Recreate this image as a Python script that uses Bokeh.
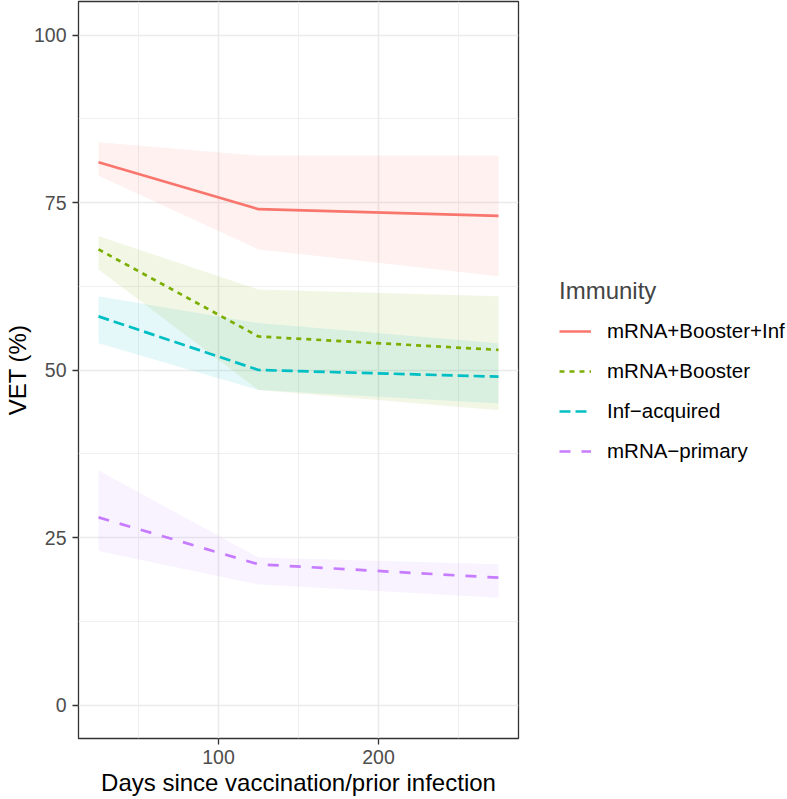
from bokeh.plotting import figure
from bokeh.models import Range1d, FixedTicker, Legend, LegendItem
from bokeh.embed import file_html
from bokeh.resources import INLINE

# ---- data ----
days = [25, 125, 275]
groups = ["mRNA+Booster+Inf", "mRNA+Booster", "Inf\u2212acquired", "mRNA\u2212primary"]

vet_boost_inf = [81, 74, 73]
lo_boost_inf = [79, 68, 64]
hi_boost_inf = [84, 82, 82]

vet_boost = [68, 55, 53]
lo_boost = [65, 47, 44]
hi_boost = [70, 62, 61]

vet_inf = [58, 50, 49]
lo_inf = [54, 47, 45]
hi_inf = [61, 57, 54]

vet_primary = [28, 21, 19]
lo_primary = [23, 18, 16]
hi_primary = [35, 22, 21]

y_ticks = [0, 25, 50, 75, 100]
y_minor = [12.5, 37.5, 62.5, 87.5]
x_ticks = [100, 200]
x_minor = [50, 150, 250]

series = [
    (groups[0], vet_boost_inf, lo_boost_inf, hi_boost_inf, "#F8766D", "solid"),
    (groups[1], vet_boost, lo_boost, hi_boost, "#7CAE00", "5 5"),
    (groups[2], vet_inf, lo_inf, hi_inf, "#00BFC4", "11 5"),
    (groups[3], vet_primary, lo_primary, hi_primary, "#C77CFF", "11 11"),
]

FONT = "Liberation Sans"

p = figure(frame_width=440, frame_height=737, output_backend="svg", toolbar_location=None,
           x_range=Range1d(12.5, 287.5), y_range=Range1d(-5, 105),
           min_border_left=10, min_border_right=0, min_border_top=1,
           min_border_bottom=0)

p.background_fill_color = "white"
p.border_fill_color = "white"
p.outline_line_color = "#333333"
p.outline_line_width = 1.3

# grid
p.xgrid.ticker = FixedTicker(ticks=x_ticks, minor_ticks=x_minor)
p.ygrid.ticker = FixedTicker(ticks=y_ticks, minor_ticks=y_minor)
for g in (p.xgrid, p.ygrid):
    g.grid_line_color = "#EBEBEB"
    g.grid_line_width = 1.6
    g.minor_grid_line_color = "#EBEBEB"
    g.minor_grid_line_width = 0.8

# axes
p.xaxis.ticker = FixedTicker(ticks=x_ticks)
p.yaxis.ticker = FixedTicker(ticks=y_ticks)
for ax in (p.xaxis, p.yaxis):
    ax.axis_line_color = None
    ax.major_tick_line_color = "#333333"
    ax.major_tick_line_width = 1.3
    ax.major_tick_out = 6
    ax.major_tick_in = 0
    ax.minor_tick_line_color = None
    ax.major_label_text_font = FONT
    ax.major_label_text_font_size = "19.5px"
    ax.major_label_text_color = "#4D4D4D"
    ax.axis_label_text_font = FONT
    ax.axis_label_text_font_size = "24px"
    ax.axis_label_text_font_style = "normal"
    ax.axis_label_text_color = "black"
p.xaxis.axis_label = "Days since vaccination/prior infection"
p.yaxis.axis_label = "VET (%)"
p.xaxis.major_label_standoff = 5
p.xaxis.axis_label_standoff = 2
p.yaxis.major_label_standoff = 6
p.yaxis.axis_label_standoff = 0

# ribbons
for name, vet, lo, hi, col, dash in series:
    p.varea(x=days, y1=lo, y2=hi, fill_color=col, fill_alpha=0.1)

items = []
for name, vet, lo, hi, col, dash in series:
    r = p.line(x=days, y=vet, line_color=col, line_width=2.7, line_dash=dash)
    items.append(LegendItem(label=name, renderers=[r]))

legend = Legend(items=items, title="Immunity", location="center_left",
                title_text_font=FONT, title_text_font_size="24px",
                title_text_font_style="normal", title_standoff=14,
                label_text_font=FONT, label_text_font_size="20.5px",
                label_text_color="black",
                glyph_width=32, glyph_height=24, label_height=24,
                label_standoff=16, spacing=16, padding=0, margin=41,
                border_line_color=None, background_fill_alpha=0)
p.add_layout(legend, "right")

open("out.html", "w").write(file_html(p, INLINE))
